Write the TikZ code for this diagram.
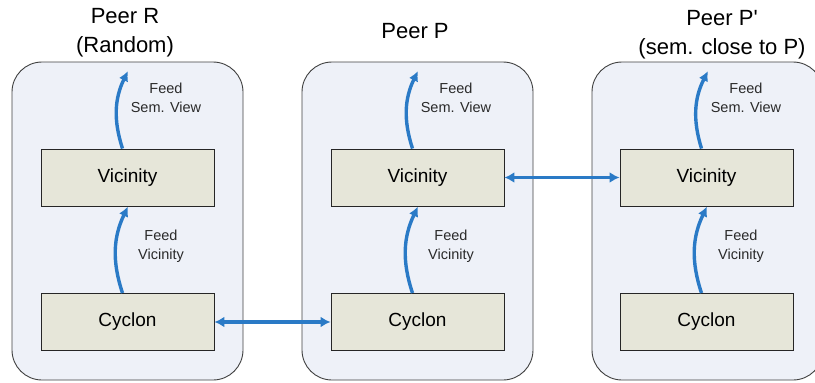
\documentclass[tikz,border=0pt]{standalone}
\usepackage{fontspec}
\setmainfont{Liberation Sans}
\usepackage{xcolor}
\usetikzlibrary{shapes,arrows.meta,positioning,calc}

\definecolor{peerfill}{HTML}{EEF1F8}
\definecolor{layerfill}{HTML}{E6E6D9}
\definecolor{feedblue}{HTML}{2A7AC6}
\definecolor{labelgray}{HTML}{2A2A2A}

\begin{document}
\begin{tikzpicture}[
    x=1pt, y=-1pt,
    peer/.style={rectangle, draw=black!75, fill=peerfill, rounded corners=30pt, minimum width=231pt, minimum height=318pt, line width=0.9pt},
    layer/.style={rectangle, draw=black!85, fill=layerfill, minimum width=173pt, minimum height=57pt, line width=0.9pt, font=\fontsize{19}{22}\selectfont},
    title/.style={align=center, font=\fontsize{22}{29}\selectfont},
    feedlabel/.style={align=center, text=labelgray, font=\fontsize{14.5}{19}\selectfont},
    feed/.style={-{Latex[length=10pt,width=10pt]}, draw=feedblue, line width=3.4pt},
    link/.style={{Latex[length=10pt,width=11pt]}-{Latex[length=10pt,width=11pt]}, draw=feedblue, line width=3.4pt}
]
\useasboundingbox (0,0) rectangle (815,383);

% Peers
\node[peer] (peerR) at (127.5,221) {};
\node[peer] (peerP) at (417.5,221) {};
\node[peer] (peerQ) at (707.5,221) {};

\node[title] (titleR) at (125,33) {Peer R\\(Random)};
\node[title] (titleP) at (415,31) {Peer P};
\node[title] (titleQ) at (722,35) {Peer P\textquotesingle\\(sem. close to P)};

% Layers
\node[layer] (vicR) at (127.5,177.5) {Vicinity};
\node[layer] (cycR) at (127.5,322) {Cyclon};
\node[layer] (vicP) at (417.5,177.5) {Vicinity};
\node[layer] (cycP) at (417.5,322) {Cyclon};
\node[layer] (vicQ) at (706.5,177.5) {Vicinity};
\node[layer] (cycQ) at (706.5,322) {Cyclon};

% Feed targets
\coordinate (semR) at (128,71);
\coordinate (semP) at (418,71);
\coordinate (semQ) at (708,71);

% Feed labels
\node[feedlabel] (lblSemR) at (166,98) {Feed\\Sem. View};
\node[feedlabel] (lblVicR) at (161,246) {Feed\\Vicinity};
\node[feedlabel] (lblSemP) at (456,98) {Feed\\Sem. View};
\node[feedlabel] (lblVicP) at (451,246) {Feed\\Vicinity};
\node[feedlabel] (lblSemQ) at (746,98) {Feed\\Sem. View};
\node[feedlabel] (lblVicQ) at (741,246) {Feed\\Vicinity};

% Arrows
\draw[feed] ([xshift=-5pt]vicR.north) to[bend left=22] (semR);
\draw[feed] ([xshift=-5pt]cycR.north) to[bend left=22] ([xshift=0.5pt]vicR.south);
\draw[feed] ([xshift=-5pt]vicP.north) to[bend left=22] (semP);
\draw[feed] ([xshift=-5pt]cycP.north) to[bend left=22] ([xshift=0.5pt]vicP.south);
\draw[feed] ([xshift=-5pt]vicQ.north) to[bend left=22] (semQ);
\draw[feed] ([xshift=-5pt]cycQ.north) to[bend left=22] ([xshift=0.5pt]vicQ.south);

\draw[link] (cycR) -- (cycP);
\draw[link] (vicP) -- (vicQ);

\end{tikzpicture}
\end{document}
